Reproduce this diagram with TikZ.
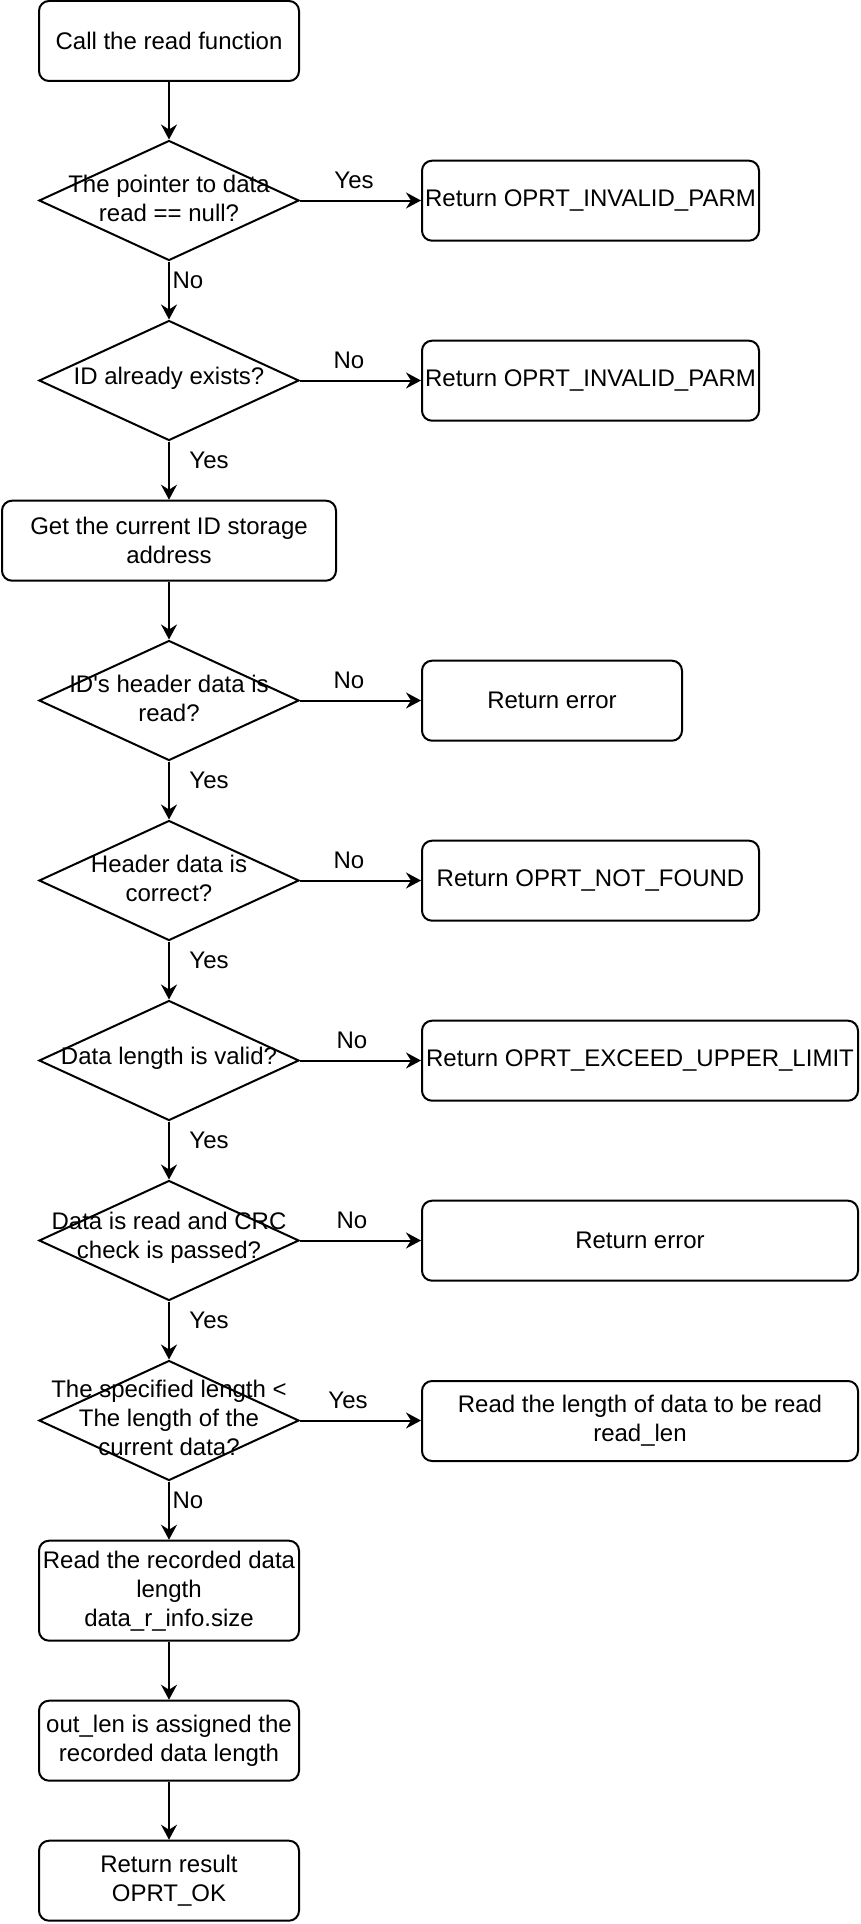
\documentclass[tikz,border=0pt]{standalone}
\usepackage{fontspec}
\setmainfont{Liberation Sans}[Ligatures=TeXOff]
\usetikzlibrary{arrows.meta,shapes.geometric}
\begin{document}
\begin{tikzpicture}[x=1pt,y=-1pt,
  every node/.style={font=\fontsize{24}{29}\selectfont},
  box/.style={draw, line width=2pt, rounded corners=10pt, inner sep=0pt, align=center, minimum height=80pt},
  dia/.style={draw, line width=2pt, diamond, inner sep=0pt, minimum width=260pt, minimum height=120pt},
  dtext/.style={align=center, yshift=2.5pt},
  lbl/.style={inner sep=0pt},
  arr/.style={line width=2pt, -{Stealth[length=15pt,width=16pt,inset=5pt]}}]
\fill[white] (0,0) rectangle (860,1924);
\useasboundingbox (0,0) rectangle (860,1924);

% left column
\node[box, minimum width=260pt] (b1) at (169,41) {Call the read function};
\node[dia, label={[dtext]center:The pointer to data\\read == null?}] (d1) at (169,200.5) {};
\node[dia, label={[dtext]center:ID already exists?}] (d2) at (169,380.5) {};
\node[box, minimum width=334pt] (b3) at (169,540.7) {Get the current ID storage\\address};
\node[dia, label={[dtext]center:ID's header data is\\read?}] (d3) at (169,700.5) {};
\node[dia, label={[dtext]center:Header data is\\correct?}] (d4) at (169,880.5) {};
\node[dia, label={[dtext]center:Data length is valid?}] (d5) at (169,1060.5) {};
\node[dia, label={[dtext]center:Data is read and CRC\\check is passed?}] (d6) at (169,1240.5) {};
\node[dia, label={[dtext]center:The specified length <\\The length of the\\current data?}] (d7) at (169,1420.5) {};
\node[box, minimum width=260pt, minimum height=100pt] (b8) at (169,1590.7) {Read the recorded data\\length\\data\_r\_info.size};
\node[box, minimum width=260pt] (b9) at (169,1740.7) {out\_len is assigned the\\recorded data length};
\node[box, minimum width=260pt] (b10) at (169,1880.7) {Return result\\OPRT\_OK};

% right column
\node[box, minimum width=337pt] (r1) at (590.5,200.7) {Return OPRT\_INVALID\_PARM};
\node[box, minimum width=337pt] (r2) at (590.5,380.7) {Return OPRT\_INVALID\_PARM};
\node[box, minimum width=260pt] (r3) at (552,700.7) {Return error};
\node[box, minimum width=337pt] (r4) at (590.5,880.7) {Return OPRT\_NOT\_FOUND};
\node[box, minimum width=436pt] (r5) at (640,1060.7) {Return OPRT\_EXCEED\_UPPER\_LIMIT};
\node[box, minimum width=436pt] (r6) at (640,1240.7) {Return error};
\node[box, minimum width=436pt] (r7) at (640,1421) {Read the length of data to be read\\read\_len};

% vertical connectors
\draw[arr] (b1) -- (d1);
\draw[arr] (d1) -- (d2);
\draw[arr] (d2) -- (b3);
\draw[arr] (b3) -- (d3);
\draw[arr] (d3) -- (d4);
\draw[arr] (d4) -- (d5);
\draw[arr] (d5) -- (d6);
\draw[arr] (d6) -- (d7);
\draw[arr] (d7) -- (b8);
\draw[arr] (b8) -- (b9);
\draw[arr] (b9) -- (b10);

% horizontal connectors
\draw[arr] (d1.east) -- (d1.east -| r1.west);
\draw[arr] (d2.east) -- (d2.east -| r2.west);
\draw[arr] (d3.east) -- (d3.east -| r3.west);
\draw[arr] (d4.east) -- (d4.east -| r4.west);
\draw[arr] (d5.east) -- (d5.east -| r5.west);
\draw[arr] (d6.east) -- (d6.east -| r6.west);
\draw[arr] (d7.east) -- (d7.east -| r7.west);

% labels
\node[lbl] (l1) at (354,180) {Yes};
\node[lbl] (l2) at (188,280) {No};
\node[lbl] (l3) at (349,360) {No};
\node[lbl] (l4) at (209,460) {Yes};
\node[lbl] (l5) at (349,680) {No};
\node[lbl] (l6) at (209,780) {Yes};
\node[lbl] (l7) at (349,860) {No};
\node[lbl] (l8) at (209,960) {Yes};
\node[lbl] (l9) at (352,1040) {No};
\node[lbl] (l10) at (209,1140) {Yes};
\node[lbl] (l11) at (352,1220) {No};
\node[lbl] (l12) at (209,1320) {Yes};
\node[lbl] (l13) at (348,1400) {Yes};
\node[lbl] (l14) at (188,1500) {No};
\end{tikzpicture}
\end{document}
